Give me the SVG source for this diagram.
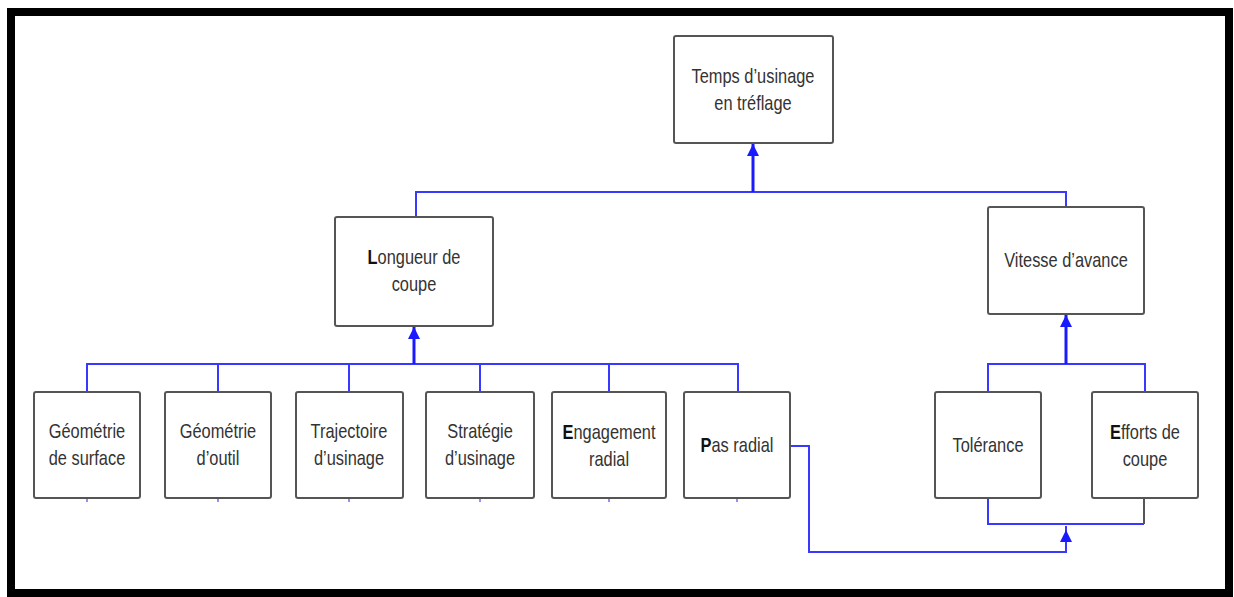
<svg xmlns="http://www.w3.org/2000/svg" width="1234" height="597" viewBox="0 0 1234 597">
<style>
.box{fill:#fff;stroke:#555;stroke-width:2}
.t{font-family:"Liberation Sans",Arial,sans-serif;font-size:20px;fill:#333;text-anchor:middle}
.c{fill:none;stroke:#3838ff;stroke-width:2}
.a{fill:none;stroke:#1a1aff;stroke-width:3}
.b{font-weight:bold;fill:#111}
</style>
<defs>
<marker id="ah" viewBox="0 0 12 12" refX="12" refY="6" markerWidth="12" markerHeight="12" markerUnits="userSpaceOnUse" orient="auto">
<path d="M0,0 L12,6 L0,12 z" fill="#1a1aff"/>
</marker>
</defs>
<rect x="0" y="0" width="1234" height="597" fill="#fff"/>
<rect x="11" y="12" width="1218" height="581" fill="none" stroke="#000" stroke-width="8"/>

<g id="connectors">
<!-- top level -->
<polyline class="c" points="416,218 416,192 1066,192 1066,207"/>
<line class="a" x1="753" y1="192" x2="753" y2="144" marker-end="url(#ah)"/>
<!-- Longueur children -->
<polyline class="c" points="87,392 87,364 738,364 738,392"/>
<line class="c" x1="218" y1="364" x2="218" y2="392"/>
<line class="c" x1="349" y1="364" x2="349" y2="392"/>
<line class="c" x1="480" y1="364" x2="480" y2="392"/>
<line class="c" x1="609" y1="364" x2="609" y2="392"/>
<line class="a" x1="414" y1="364" x2="414" y2="327" marker-end="url(#ah)"/>
<!-- Vitesse children -->
<polyline class="c" points="988,392 988,364 1145,364 1145,392"/>
<line class="a" x1="1066" y1="364" x2="1066" y2="315" marker-end="url(#ah)"/>
<!-- bottom stubs -->
<g stroke="#6a6aff" stroke-width="1.5">
<line x1="87" y1="499" x2="87" y2="502"/>
<line x1="218" y1="499" x2="218" y2="502"/>
<line x1="349" y1="499" x2="349" y2="502"/>
<line x1="480" y1="499" x2="480" y2="502"/>
<line x1="609" y1="499" x2="609" y2="502"/>
<line x1="737" y1="499" x2="737" y2="502"/>
</g>
<!-- Tolerance / Efforts bottom -->
<polyline class="c" points="988,499 988,524 1144,524"/>
<line stroke="#555" stroke-width="2" x1="1144" y1="499" x2="1144" y2="524"/>
<!-- Pas radial route -->
<polyline class="c" points="791,446 809,446 809,552 1066,552 1066,526"/>
<line class="c" x1="1066" y1="540" x2="1066" y2="530" marker-end="url(#ah)"/>
</g>

<g id="n-temps">
<rect class="box" x="674" y="36" width="159" height="107" rx="2"/>
<text class="t" transform="translate(753,83) scale(0.82,1)">Temps d’usinage</text>
<text class="t" transform="translate(753,110) scale(0.82,1)">en tréflage</text>
</g>
<g id="n-longueur">
<rect class="box" x="335" y="217" width="158" height="109" rx="2"/>
<text class="t" transform="translate(414,264) scale(0.82,1)"><tspan class="b">L</tspan>ongueur de</text>
<text class="t" transform="translate(414,291) scale(0.82,1)">coupe</text>
</g>
<g id="n-vitesse">
<rect class="box" x="988" y="207" width="156" height="107" rx="2"/>
<text class="t" transform="translate(1066,267) scale(0.82,1)">Vitesse d’avance</text>
</g>
<g id="n-geosurf">
<rect class="box" x="34" y="392" width="106" height="106" rx="2"/>
<text class="t" transform="translate(87,438) scale(0.82,1)">Géométrie</text>
<text class="t" transform="translate(87,465) scale(0.82,1)">de surface</text>
</g>
<g id="n-geooutil">
<rect class="box" x="165" y="392" width="106" height="106" rx="2"/>
<text class="t" transform="translate(218,438) scale(0.82,1)">Géométrie</text>
<text class="t" transform="translate(218,465) scale(0.82,1)">d’outil</text>
</g>
<g id="n-traj">
<rect class="box" x="296" y="392" width="107" height="106" rx="2"/>
<text class="t" transform="translate(349,438) scale(0.82,1)">Trajectoire</text>
<text class="t" transform="translate(349,465) scale(0.82,1)">d’usinage</text>
</g>
<g id="n-strat">
<rect class="box" x="426" y="392" width="108" height="106" rx="2"/>
<text class="t" transform="translate(480,438) scale(0.82,1)">Stratégie</text>
<text class="t" transform="translate(480,465) scale(0.82,1)">d’usinage</text>
</g>
<g id="n-engag">
<rect class="box" x="552" y="392" width="114" height="106" rx="2"/>
<text class="t" transform="translate(609,439) scale(0.82,1)"><tspan class="b">E</tspan>ngagement</text>
<text class="t" transform="translate(609,466) scale(0.82,1)">radial</text>
</g>
<g id="n-pas">
<rect class="box" x="684" y="392" width="106" height="106" rx="2"/>
<text class="t" transform="translate(737,452) scale(0.82,1)"><tspan class="b">P</tspan>as radial</text>
</g>
<g id="n-tol">
<rect class="box" x="935" y="392" width="106" height="106" rx="2"/>
<text class="t" transform="translate(988,452) scale(0.82,1)">Tolérance</text>
</g>
<g id="n-efforts">
<rect class="box" x="1092" y="392" width="106" height="106" rx="2"/>
<text class="t" transform="translate(1145,439) scale(0.82,1)"><tspan class="b">E</tspan>fforts de</text>
<text class="t" transform="translate(1145,466) scale(0.82,1)">coupe</text>
</g>
</svg>
